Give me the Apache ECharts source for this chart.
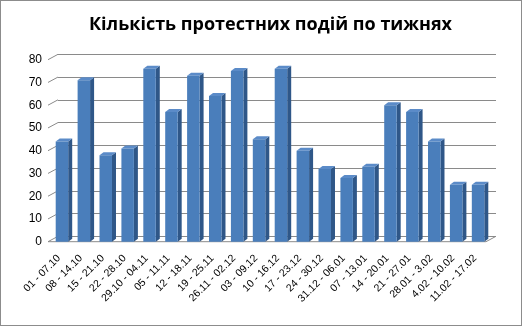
<!DOCTYPE html>
<html><head><meta charset="utf-8">
<script src="https://cdn.jsdelivr.net/npm/echarts@6/dist/echarts.min.js"></script>
<style>html,body{margin:0;padding:0;background:#fff}#c{width:522px;height:326px;box-sizing:border-box;border:1px solid #8c8c8c}</style>
</head><body><div id="c"></div>
<script>
const categories = ['01 - 07.10','08 - 14.10','15 - 21.10','22 - 28.10','29.10 - 04.11','05 - 11.11','12 - 18.11','19 - 25.11','26.11 - 02.12','03 - 09.12','10 - 16.12','17 - 23.12','24 - 30.12','31.12 - 06.01','07 - 13.01','14 - 20.01','21 - 27.01','28.01 - 3.02','4.02 - 10.02','11.02 - 17.02'];
const values = [44,71,38,41,76,57,73,64,75,45,76,40,32,28,33,60,57,44,25,25];
const yTicks = [0,10,20,30,40,50,60,70,80];
const title = 'Кількість протестних подій по тижнях';

const DX = 10, DY = -5.4;
const chart = echarts.init(document.getElementById('c'));
chart.setOption({
  animation:false,
  title:{text:title,left:83,top:10,textStyle:{fontFamily:'Open Sans',fontWeight:'bold',fontSize:18,color:'#000'}},
  grid:[
    {left:47,right:35,top:58.7,bottom:83.3},
    {left:57,right:25,top:53.3,bottom:88.7}
  ],
  xAxis:[
    {gridIndex:0,type:'category',data:categories,axisLine:{show:false},axisTick:{show:false},
     axisLabel:{rotate:45,interval:0,fontSize:10.5,fontFamily:'Liberation Sans',color:'#000',margin:15}},
    {gridIndex:1,type:'category',data:categories,show:false}
  ],
  yAxis:[
    {gridIndex:0,type:'value',min:0,max:80,interval:10,splitLine:{show:false},axisLine:{show:false},axisTick:{show:false},
     axisLabel:{fontSize:12,fontFamily:'Liberation Sans',color:'#000',margin:6,padding:[14,0,0,0]}},
    {gridIndex:1,type:'value',min:0,max:80,interval:10,axisLabel:{show:false},axisLine:{show:false},axisTick:{show:false},
     splitLine:{lineStyle:{color:'#8a8a8a',width:1}}}
  ],
  series:[
    {type:'custom',xAxisIndex:0,yAxisIndex:0,silent:true,data:yTicks.map(v=>[0,v]),
     renderItem:function(params,api){
       const v=api.value(1);
       const half=api.size([1,0])[0]/2;
       const p=api.coord([0,v]);
       const xl=p[0]-half;
       const ch=[{type:'line',shape:{x1:xl,y1:p[1],x2:xl+DX,y2:p[1]+DY},style:{stroke:'#8a8a8a',lineWidth:1}}];
       if(v===0){
         const pr=api.coord([categories.length-1,0]);
         const xr=pr[0]+half;
         ch.push({type:'line',shape:{x1:xl,y1:p[1],x2:xr,y2:p[1]},style:{stroke:'#8a8a8a',lineWidth:1}});
         ch.push({type:'line',shape:{x1:xr,y1:p[1],x2:xr+DX,y2:p[1]+DY},style:{stroke:'#8a8a8a',lineWidth:1}});
       }
       return {type:'group',children:ch};
     }},
    {type:'custom',xAxisIndex:0,yAxisIndex:0,data:values.map((v,i)=>[i,v]),
     renderItem:function(params,api){
       const i=api.value(0),v=api.value(1);
       const p0=api.coord([i,0]),p1=api.coord([i,v]);
       const bw=api.size([1,0])[0]*0.57;
       const x=p0[0]-bw/2+3;
       const d=4,dy=-3;
       const y0=p0[1],y1=p1[1];
       return {type:'group',children:[
         {type:'polygon',shape:{points:[[x+bw,y1],[x+bw+d,y1+dy],[x+bw+d,y0+dy],[x+bw,y0]]},style:{fill:'#2f5788'}},
         {type:'polygon',shape:{points:[[x,y1],[x+d,y1+dy],[x+bw+d,y1+dy],[x+bw,y1]]},style:{fill:'#5b8bc8'}},
         {type:'rect',shape:{x:x,y:y1,width:bw,height:y0-y1},style:{fill:'#4a7ebb'}}
       ]};
     }}
  ]
});
</script></body></html>
